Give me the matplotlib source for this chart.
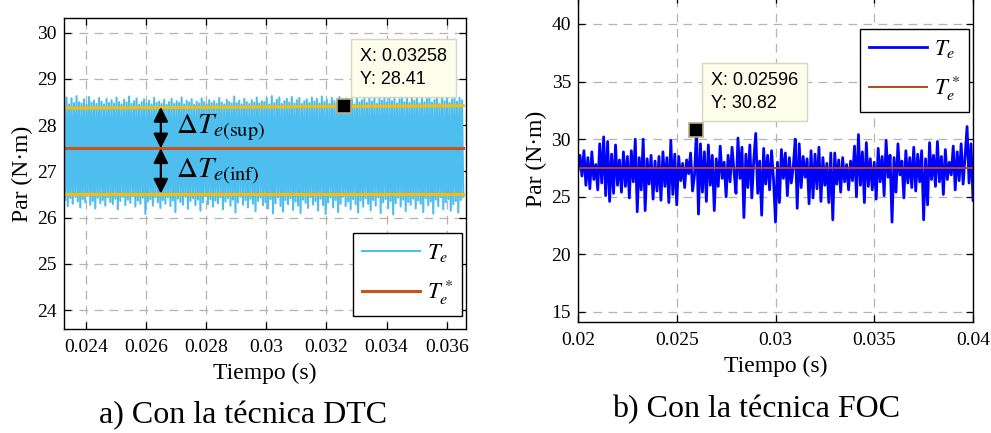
import numpy as np
import matplotlib
matplotlib.use("Agg")
import matplotlib.pyplot as plt

plt.rcParams['font.family'] = ['Liberation Serif', 'DejaVu Serif']
plt.rcParams['mathtext.fontset'] = 'stix'

# ---------------- DTC torque (switching peaks of each hysteresis cycle) ----------------
dtc_t_range = [0.02327, 0.03655]
dtc_peaks_hi = [
    28.52, 28.60, 28.45, 28.58, 28.48, 28.63, 28.50, 28.47, 28.56, 28.44, 28.61, 28.49, 28.53, 28.46, 28.59, 28.51, 28.45, 28.57, 28.48, 28.54,
    28.47, 28.60, 28.50, 28.45, 28.55, 28.49, 28.62, 28.46, 28.52, 28.58, 28.44, 28.50, 28.56, 28.47, 28.53, 28.45, 28.59, 28.48, 28.51, 28.46,
    28.55, 28.44, 28.50, 28.57, 28.46, 28.52, 28.48, 28.60, 28.45, 28.53, 28.49, 28.56, 28.44, 28.51, 28.47, 28.58, 28.50, 28.45, 28.54, 28.48,
    28.52, 28.46, 28.59, 28.49, 28.45, 28.55, 28.50, 28.47, 28.62, 28.48, 28.53, 28.45, 28.57, 28.50, 28.46, 28.54, 28.49, 28.60, 28.47, 28.52,
    28.50, 28.58, 28.45, 28.63, 28.48, 28.55, 28.60, 28.46, 28.52, 28.57, 28.49, 28.61, 28.47, 28.54, 28.59, 28.46, 28.52, 28.56, 28.48, 28.60,
    28.51, 28.57, 28.47, 28.62, 28.50, 28.55, 28.46, 28.59, 28.52, 28.48, 28.61, 28.53, 28.47, 28.58, 28.50, 28.56, 28.45, 28.60, 28.49, 28.54,
    28.57, 28.48, 28.62, 28.51, 28.59, 28.46, 28.60, 28.53, 28.64, 28.49, 28.58, 28.52, 28.61, 28.47, 28.56, 28.63, 28.50, 28.59, 28.48, 28.62,
    28.53, 28.58, 28.47, 28.61, 28.50, 28.57, 28.63, 28.49, 28.55, 28.60, 28.46, 28.58, 28.52, 28.62, 28.48, 28.56, 28.60, 28.51, 28.59, 28.54,
]
dtc_peaks_lo = [
    26.38, 26.25, 26.42, 26.30, 26.45, 26.35, 26.22, 26.40, 26.33, 26.47, 26.28, 26.36, 26.20, 26.43, 26.31, 26.38, 26.26, 26.44, 26.34, 26.29,
    26.41, 26.18, 26.36, 26.45, 26.27, 26.39, 26.32, 26.46, 26.24, 26.37, 26.30, 26.43, 26.08, 26.35, 26.40, 26.26, 26.44, 26.33, 26.21, 26.38,
    26.30, 26.44, 26.25, 26.37, 26.12, 26.41, 26.34, 26.28, 26.45, 26.19, 26.36, 26.42, 26.27, 26.39, 26.15, 26.33, 26.46, 26.29, 26.40, 26.24,
    26.37, 26.31, 26.44, 26.18, 26.35, 26.42, 26.26, 26.39, 26.11, 26.33, 26.45, 26.28, 26.38, 26.22, 26.41, 26.30, 26.14, 26.36, 26.43, 26.27,
    26.34, 26.20, 26.40, 26.09, 26.31, 26.44, 26.25, 26.13, 26.38, 26.29, 26.42, 26.17, 26.35, 26.26, 26.10, 26.39, 26.32, 26.21, 26.44, 26.28,
    26.36, 26.15, 26.41, 26.27, 26.08, 26.33, 26.43, 26.22, 26.38, 26.12, 26.30, 26.45, 26.25, 26.35, 26.18, 26.40, 26.29, 26.11, 26.37, 26.24,
    26.42, 26.30, 26.16, 26.38, 26.26, 26.44, 26.10, 26.33, 26.40, 26.21, 26.36, 26.07, 26.31, 26.43, 26.24, 26.39, 26.14, 26.34, 26.28, 26.41,
    26.20, 26.37, 26.30, 26.12, 26.42, 26.27, 26.35, 26.09, 26.39, 26.25, 26.44, 26.18, 26.33, 26.40, 26.15, 26.29, 26.36, 26.11, 26.38, 26.45,
]
dtc_ref = 27.5
dtc_band_hi = [28.37, 28.42]   # band limit at start / end
dtc_band_lo = [26.52, 26.52]
dtc_arrow_x = 0.02649
dtc_tip = (0.03258, 28.41)

dtc_xticks = [0.024, 0.026, 0.028, 0.030, 0.032, 0.034, 0.036]
dtc_xticklabels = ['0.024', '0.026', '0.028', '0.03', '0.032', '0.034', '0.036']
dtc_yticks = [24, 25, 26, 27, 28, 29, 30]

# ---------------- FOC torque ----------------
foc_t_range = [0.020, 0.040]
foc_te = [
    27.3, 28.6, 26.8, 29.0, 26.0, 28.4, 25.7, 28.9, 26.5, 27.8,
    25.6, 29.6, 26.2, 30.2, 25.1, 29.8, 24.6, 28.7, 25.3, 29.5,
    26.0, 28.2, 25.4, 28.9, 25.9, 28.5, 24.9, 29.0, 26.3, 30.0,
    23.7, 28.4, 25.6, 30.0, 23.8, 28.3, 26.1, 28.6, 24.8, 28.1,
    25.5, 28.5, 24.7, 28.9, 25.9, 28.4, 24.5, 29.9, 25.2, 28.7,
    24.3, 28.5, 26.4, 27.9, 25.8, 28.2, 27.0, 28.8, 25.5, 26.9,
    30.82, 23.5, 29.6, 25.4, 28.9, 24.6, 29.5, 26.0, 28.6, 23.8,
    28.3, 25.9, 29.4, 26.6, 28.0, 25.0, 28.6, 26.3, 29.3, 27.2,
    25.3, 30.1, 26.6, 29.3, 23.2, 28.7, 25.8, 29.5, 24.9, 28.2,
    30.5, 25.3, 28.1, 23.4, 29.2, 26.1, 28.6, 25.6, 29.0, 26.5,
    22.8, 28.0, 24.5, 29.1, 26.6, 28.8, 25.1, 28.4, 26.2, 27.6,
    30.0, 24.0, 29.6, 25.8, 28.5, 26.7, 28.3, 24.4, 29.0, 24.9,
    28.7, 25.7, 29.3, 24.6, 28.4, 26.0, 27.9, 24.5, 28.8, 23.0,
    28.8, 26.1, 28.2, 25.4, 28.4, 26.3, 27.8, 25.6, 28.1, 26.4,
    29.4, 25.0, 30.4, 26.0, 28.9, 24.5, 29.7, 25.9, 28.3, 25.6,
    28.0, 24.8, 29.2, 26.3, 28.5, 25.1, 29.9, 26.7, 28.6, 22.8,
    28.4, 25.4, 29.6, 26.9, 28.1, 24.9, 29.0, 26.2, 28.4, 25.8,
    29.3, 25.5, 28.7, 26.3, 29.0, 23.0, 28.3, 24.3, 29.7, 26.5,
    28.6, 25.9, 29.8, 26.3, 28.5, 25.2, 29.1, 26.5, 28.0, 26.9,
    29.4, 25.6, 28.9, 26.4, 29.6, 26.1, 28.5, 31.1, 26.2, 29.6,
    24.7,
]
foc_ref = 27.5
foc_tip = (0.02596, 30.82)

foc_xticks = [0.020, 0.025, 0.030, 0.035, 0.040]
foc_xticklabels = ['0.02', '0.025', '0.03', '0.035', '0.04']
foc_yticks = [15, 20, 25, 30, 35, 40]

# ---------------- styling ----------------
C_TE = '#4DBEEE'
C_REF = '#C4561C'
C_BAND = '#F8BC06'
C_FOC = '#0000FF'
C_FOC_REF = '#B4461C'
GRID = dict(color='#B4B4B4', linestyle=(0, (7, 5)), linewidth=0.9)
TIP_BOX = dict(boxstyle='square,pad=0.5', facecolor='#FDFDEB', edgecolor='#D6D6C4', linewidth=1.0)
TICK_FS = 14
LABEL_FS = 17
LEG_FS = 16.5

W, H = 991, 433
fig = plt.figure(figsize=(W / 100, H / 100), dpi=100)


def px_axes(x0, y0, x1, y1):
    return fig.add_axes([x0 / W, 1 - y1 / H, (x1 - x0) / W, (y1 - y0) / H])


def style(ax):
    ax.set_axisbelow(True)
    ax.grid(True, **GRID)
    ax.tick_params(direction='in', length=5, width=0.9, top=True, right=True,
                   labelsize=TICK_FS, colors='black')
    ax.tick_params(axis='x', pad=7)
    ax.tick_params(axis='y', pad=5)
    for s in ax.spines.values():
        s.set_linewidth(1.0)
        s.set_color('black')


def legend(ax, anchor):
    leg = ax.legend(loc='upper left', bbox_to_anchor=anchor, fontsize=LEG_FS,
                    frameon=True, fancybox=False, edgecolor='black', framealpha=1,
                    handlelength=2.55, handletextpad=0.3, labelspacing=0.62,
                    borderpad=0.38, borderaxespad=0)
    leg.get_frame().set_linewidth(1.0)
    return leg


def datatip(ax, tip, text_pos):
    ax.plot([tip[0]], [tip[1]], marker='s', markersize=9.5, color='black',
            markeredgecolor='#B8AE86', markeredgewidth=1.2, linestyle='none', zorder=5)
    ax.text(text_pos[0], text_pos[1], 'X: %.5f\nY: %.2f' % tip, transform=ax.transAxes,
            fontsize=13, family='Liberation Sans', ha='left', va='center',
            linespacing=1.45, bbox=TIP_BOX, zorder=6)


# ---------------- left: DTC ----------------
ax1 = px_axes(64, 18, 466, 329)
style(ax1)
n = len(dtc_peaks_hi)
sig = np.empty(2 * n)
sig[0::2] = dtc_peaks_hi
sig[1::2] = dtc_peaks_lo
t = np.linspace(dtc_t_range[0], dtc_t_range[1], 2 * n)
ax1.plot(t, sig, color=C_TE, linewidth=1.5, label=r'$T_e$')
ax1.plot(dtc_t_range, [dtc_ref, dtc_ref], color=C_REF, linewidth=2.2, label=r'$T_e^*$')
ax1.plot(dtc_t_range, dtc_band_hi, color=C_BAND, linewidth=2.2)
ax1.plot(dtc_t_range, dtc_band_lo, color=C_BAND, linewidth=2.2)

ax1.set_xlim(0.02327, 0.03664)
ax1.set_ylim(23.59, 30.32)
ax1.set_xticks(dtc_xticks)
ax1.set_xticklabels(dtc_xticklabels)
ax1.set_yticks(dtc_yticks)
ax1.set_xlabel('Tiempo (s)', fontsize=LABEL_FS, labelpad=5)
ax1.set_ylabel('Par (N·m)', fontsize=LABEL_FS, labelpad=3)

arrow = dict(arrowstyle='<|-|>', color='black', lw=1.6, mutation_scale=22,
             shrinkA=0, shrinkB=0)
band_mid_hi = float(np.mean(dtc_band_hi))
ax1.annotate('', xy=(dtc_arrow_x, band_mid_hi), xytext=(dtc_arrow_x, dtc_ref), arrowprops=arrow)
ax1.annotate('', xy=(dtc_arrow_x, dtc_band_lo[0]), xytext=(dtc_arrow_x, dtc_ref), arrowprops=arrow)
ax1.text(0.02700, 27.84, r'$\Delta T_{e(\mathrm{sup})}$', fontsize=21, va='baseline', ha='left')
ax1.text(0.02700, 26.86, r'$\Delta T_{e(\mathrm{inf})}$', fontsize=21, va='baseline', ha='left')

datatip(ax1, dtc_tip, (0.736, 0.839))
legend(ax1, (0.719, 0.309))

# ---------------- right: FOC ----------------
ax2 = px_axes(578, -4, 973, 322)
style(ax2)
t2 = np.linspace(foc_t_range[0], foc_t_range[1], len(foc_te))
ax2.plot(t2, foc_te, color=C_FOC, linewidth=2.0, label=r'$T_e$')
ax2.plot(foc_t_range, [foc_ref, foc_ref], color=C_FOC_REF, linewidth=1.4, label=r'$T_e^*$')
ax2.set_xlim(0.020, 0.040)
ax2.set_ylim(14.13, 42.43)
ax2.set_xticks(foc_xticks)
ax2.set_xticklabels(foc_xticklabels)
ax2.set_yticks(foc_yticks)
ax2.set_xlabel('Tiempo (s)', fontsize=LABEL_FS, labelpad=5)
ax2.set_ylabel('Par (N·m)', fontsize=LABEL_FS, labelpad=3)

datatip(ax2, foc_tip, (0.337, 0.706))
legend(ax2, (0.714, 0.899))

# ---------------- captions ----------------
fig.text(243 / W, 1 - 416 / H, 'a) Con la técnica DTC', fontsize=23, ha='center', va='center')
fig.text(756 / W, 1 - 410 / H, 'b) Con la técnica FOC', fontsize=23, ha='center', va='center')

fig.savefig('out.png', dpi=100)
